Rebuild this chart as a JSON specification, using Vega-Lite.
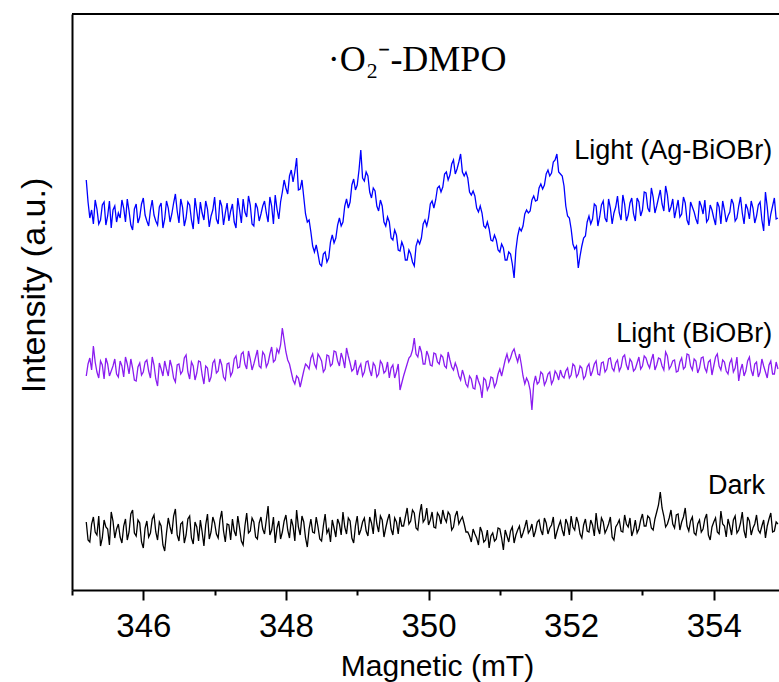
{
"$schema": "https://vega.github.io/schema/vega-lite/v6.json",
"width": 707,
"height": 576,
"autosize": {"type": "none"},
"padding": {"left": 72, "top": 14, "right": 0, "bottom": 92},
"background": "white",
"config": {"view": {"stroke": null}, "font": "Liberation Sans"},
"datasets": {"epr": [
{"x":345.20,"A":410,"B":214,"C":68},{"x":345.25,"A":372,"B":232,"C":48},{"x":345.30,"A":366,"B":244,"C":73},{"x":345.35,"A":381,"B":218,"C":55},{"x":345.40,"A":370,"B":229,"C":44},
{"x":345.45,"A":388,"B":211,"C":70},{"x":345.50,"A":374,"B":226,"C":61},{"x":345.55,"A":362,"B":219,"C":78},{"x":345.60,"A":384,"B":231,"C":52},{"x":345.65,"A":377,"B":213,"C":66},
{"x":345.70,"A":390,"B":224,"C":47},{"x":345.75,"A":368,"B":233,"C":71},{"x":345.80,"A":379,"B":216,"C":58},{"x":345.85,"A":360,"B":222,"C":80},{"x":345.90,"A":386,"B":209,"C":54},
{"x":345.95,"A":373,"B":227,"C":67},{"x":346.00,"A":392,"B":218,"C":42},{"x":346.05,"A":369,"B":230,"C":69},{"x":346.10,"A":380,"B":212,"C":57},{"x":346.15,"A":375,"B":225,"C":75},
{"x":346.20,"A":365,"B":204,"C":50},{"x":346.25,"A":387,"B":221,"C":64},{"x":346.30,"A":371,"B":229,"C":39},{"x":346.35,"A":382,"B":214,"C":72},{"x":346.40,"A":376,"B":223,"C":56},
{"x":346.45,"A":396,"B":208,"C":81},{"x":346.50,"A":367,"B":226,"C":49},{"x":346.55,"A":383,"B":219,"C":68},{"x":346.60,"A":372,"B":235,"C":55},{"x":346.65,"A":385,"B":211,"C":74},
{"x":346.70,"A":361,"B":224,"C":46},{"x":346.75,"A":379,"B":217,"C":63},{"x":346.80,"A":388,"B":228,"C":70},{"x":346.85,"A":370,"B":206,"C":44},{"x":346.90,"A":381,"B":222,"C":76},
{"x":346.95,"A":374,"B":213,"C":58},{"x":347.00,"A":393,"B":230,"C":67},{"x":347.05,"A":366,"B":219,"C":52},{"x":347.10,"A":384,"B":225,"C":79},{"x":347.15,"A":377,"B":210,"C":48},
{"x":347.20,"A":369,"B":227,"C":65},{"x":347.25,"A":386,"B":218,"C":71},{"x":347.30,"A":362,"B":234,"C":54},{"x":347.35,"A":380,"B":223,"C":62},{"x":347.40,"A":391,"B":238,"C":45},
{"x":347.45,"A":373,"B":221,"C":77},{"x":347.50,"A":385,"B":231,"C":59},{"x":347.55,"A":364,"B":226,"C":68},{"x":347.60,"A":382,"B":240,"C":51},{"x":347.65,"A":376,"B":222,"C":73},
{"x":347.70,"A":389,"B":235,"C":56},{"x":347.75,"A":368,"B":227,"C":84},{"x":347.80,"A":384,"B":243,"C":60},{"x":347.85,"A":395,"B":230,"C":47},{"x":347.90,"A":371,"B":237,"C":69},
{"x":347.95,"A":398,"B":262,"C":58},{"x":348.00,"A":402,"B":238,"C":75},{"x":348.05,"A":414,"B":226,"C":52},{"x":348.10,"A":408,"B":210,"C":64},{"x":348.15,"A":432,"B":214,"C":80},
{"x":348.20,"A":401,"B":203,"C":55},{"x":348.25,"A":393,"B":219,"C":68},{"x":348.30,"A":368,"B":224,"C":43},{"x":348.35,"A":358,"B":232,"C":71},{"x":348.40,"A":338,"B":226,"C":57},
{"x":348.45,"A":336,"B":236,"C":63},{"x":348.50,"A":324,"B":229,"C":49},{"x":348.55,"A":338,"B":221,"C":76},{"x":348.60,"A":332,"B":234,"C":61},{"x":348.65,"A":355,"B":226,"C":70},
{"x":348.70,"A":352,"B":238,"C":53},{"x":348.75,"A":372,"B":224,"C":66},{"x":348.80,"A":368,"B":231,"C":78},{"x":348.85,"A":391,"B":242,"C":56},{"x":348.90,"A":388,"B":227,"C":69},
{"x":348.95,"A":411,"B":221,"C":47},{"x":349.00,"A":405,"B":215,"C":74},{"x":349.05,"A":440,"B":226,"C":60},{"x":349.10,"A":409,"B":218,"C":72},{"x":349.15,"A":414,"B":229,"C":54},
{"x":349.20,"A":392,"B":214,"C":67},{"x":349.25,"A":399,"B":224,"C":81},{"x":349.30,"A":379,"B":216,"C":58},{"x":349.35,"A":384,"B":226,"C":70},{"x":349.40,"A":364,"B":219,"C":62},
{"x":349.45,"A":368,"B":212,"C":76},{"x":349.50,"A":350,"B":225,"C":55},{"x":349.55,"A":355,"B":218,"C":68},{"x":349.60,"A":339,"B":200,"C":73},{"x":349.65,"A":343,"B":214,"C":64},
{"x":349.70,"A":330,"B":226,"C":82},{"x":349.75,"A":336,"B":234,"C":69},{"x":349.80,"A":324,"B":252,"C":77},{"x":349.85,"A":350,"B":233,"C":60},{"x":349.90,"A":352,"B":238,"C":86},
{"x":349.95,"A":370,"B":226,"C":71},{"x":350.00,"A":372,"B":234,"C":65},{"x":350.05,"A":389,"B":224,"C":78},{"x":350.10,"A":390,"B":236,"C":62},{"x":350.15,"A":404,"B":226,"C":74},
{"x":350.20,"A":403,"B":233,"C":80},{"x":350.25,"A":418,"B":222,"C":68},{"x":350.30,"A":415,"B":230,"C":75},{"x":350.35,"A":430,"B":220,"C":63},{"x":350.40,"A":421,"B":222,"C":79},
{"x":350.45,"A":436,"B":210,"C":70},{"x":350.50,"A":414,"B":214,"C":66},{"x":350.55,"A":412,"B":203,"C":58},{"x":350.60,"A":395,"B":211,"C":48},{"x":350.65,"A":394,"B":201,"C":56},
{"x":350.70,"A":378,"B":209,"C":45},{"x":350.75,"A":377,"B":192,"C":58},{"x":350.80,"A":362,"B":210,"C":50},{"x":350.85,"A":361,"B":204,"C":42},{"x":350.90,"A":349,"B":212,"C":57},
{"x":350.95,"A":350,"B":207,"C":51},{"x":351.00,"A":338,"B":221,"C":61},{"x":351.05,"A":342,"B":222,"C":40},{"x":351.10,"A":330,"B":236,"C":54},{"x":351.15,"A":336,"B":232,"C":59},
{"x":351.20,"A":312,"B":241,"C":47},{"x":351.25,"A":354,"B":228,"C":60},{"x":351.30,"A":359,"B":226,"C":52},{"x":351.35,"A":376,"B":206,"C":63},{"x":351.40,"A":377,"B":208,"C":57},
{"x":351.45,"A":390,"B":180,"C":66},{"x":351.50,"A":389,"B":214,"C":59},{"x":351.55,"A":402,"B":208,"C":70},{"x":351.60,"A":401,"B":216,"C":55},{"x":351.65,"A":416,"B":209,"C":67},
{"x":351.70,"A":414,"B":218,"C":62},{"x":351.75,"A":428,"B":210,"C":73},{"x":351.80,"A":436,"B":216,"C":58},{"x":351.85,"A":416,"B":220,"C":69},{"x":351.90,"A":404,"B":212,"C":54},
{"x":351.95,"A":374,"B":222,"C":66},{"x":352.00,"A":361,"B":215,"C":74},{"x":352.05,"A":341,"B":224,"C":60},{"x":352.10,"A":322,"B":216,"C":67},{"x":352.15,"A":344,"B":222,"C":52},
{"x":352.20,"A":354,"B":214,"C":71},{"x":352.25,"A":374,"B":226,"C":58},{"x":352.30,"A":371,"B":219,"C":65},{"x":352.35,"A":384,"B":229,"C":77},{"x":352.40,"A":373,"B":215,"C":56},
{"x":352.45,"A":389,"B":228,"C":68},{"x":352.50,"A":368,"B":221,"C":61},{"x":352.55,"A":382,"B":232,"C":73},{"x":352.60,"A":377,"B":219,"C":50},{"x":352.65,"A":394,"B":230,"C":66},
{"x":352.70,"A":370,"B":223,"C":59},{"x":352.75,"A":386,"B":235,"C":75},{"x":352.80,"A":375,"B":220,"C":63},{"x":352.85,"A":392,"B":228,"C":54},{"x":352.90,"A":369,"B":221,"C":70},
{"x":352.95,"A":388,"B":233,"C":61},{"x":353.00,"A":380,"B":224,"C":76},{"x":353.05,"A":397,"B":232,"C":64},{"x":353.10,"A":378,"B":222,"C":72},{"x":353.15,"A":393,"B":236,"C":60},
{"x":353.20,"A":384,"B":225,"C":78},{"x":353.25,"A":400,"B":231,"C":98},{"x":353.30,"A":379,"B":220,"C":74},{"x":353.35,"A":395,"B":234,"C":66},{"x":353.40,"A":383,"B":224,"C":80},
{"x":353.45,"A":372,"B":230,"C":62},{"x":353.50,"A":390,"B":219,"C":76},{"x":353.55,"A":376,"B":232,"C":68},{"x":353.60,"A":387,"B":223,"C":82},{"x":353.65,"A":365,"B":235,"C":59},
{"x":353.70,"A":383,"B":220,"C":73},{"x":353.75,"A":371,"B":229,"C":55},{"x":353.80,"A":389,"B":222,"C":70},{"x":353.85,"A":376,"B":233,"C":61},{"x":353.90,"A":368,"B":218,"C":76},
{"x":353.95,"A":385,"B":230,"C":50},{"x":354.00,"A":372,"B":224,"C":68},{"x":354.05,"A":388,"B":236,"C":58},{"x":354.10,"A":366,"B":220,"C":79},{"x":354.15,"A":380,"B":228,"C":64},
{"x":354.20,"A":374,"B":216,"C":71},{"x":354.25,"A":391,"B":231,"C":55},{"x":354.30,"A":369,"B":222,"C":74},{"x":354.35,"A":384,"B":209,"C":60},{"x":354.40,"A":377,"B":226,"C":78},
{"x":354.45,"A":386,"B":219,"C":52},{"x":354.50,"A":371,"B":233,"C":69},{"x":354.55,"A":382,"B":214,"C":62},{"x":354.60,"A":374,"B":228,"C":75},{"x":354.65,"A":388,"B":218,"C":57},
{"x":354.70,"A":359,"B":224,"C":70},{"x":354.75,"A":383,"B":212,"C":64},{"x":354.80,"A":376,"B":229,"C":77},{"x":354.85,"A":392,"B":216,"C":59},{"x":354.90,"A":372,"B":221,"C":66},
{"x":345.225,"A":388,"B":226,"C":50},{"x":345.275,"A":380,"B":220,"C":66},{"x":345.325,"A":390,"B":228,"C":58},{"x":345.375,"A":366,"B":212,"C":74},{"x":345.425,"A":385,"B":225,"C":52},
{"x":345.475,"A":365,"B":232,"C":63},{"x":345.525,"A":389,"B":214,"C":45},{"x":345.575,"A":380,"B":224,"C":69},{"x":345.625,"A":368,"B":216,"C":61},{"x":345.675,"A":372,"B":229,"C":53},
{"x":345.725,"A":382,"B":213,"C":64},{"x":345.775,"A":391,"B":226,"C":50},{"x":345.825,"A":365,"B":231,"C":76},{"x":345.875,"A":381,"B":210,"C":57},{"x":345.925,"A":367,"B":223,"C":70},
{"x":345.975,"A":386,"B":215,"C":48},{"x":346.025,"A":375,"B":228,"C":62},{"x":346.075,"A":364,"B":219,"C":53},{"x":346.125,"A":390,"B":233,"C":71},{"x":346.175,"A":369,"B":211,"C":58},
{"x":346.225,"A":383,"B":227,"C":68},{"x":346.275,"A":362,"B":214,"C":45},{"x":346.325,"A":389,"B":221,"C":57},{"x":346.375,"A":368,"B":230,"C":63},{"x":346.425,"A":387,"B":212,"C":74},
{"x":346.475,"A":379,"B":225,"C":55},{"x":346.525,"A":391,"B":216,"C":66},{"x":346.575,"A":364,"B":232,"C":47},{"x":346.625,"A":388,"B":218,"C":71},{"x":346.675,"A":370,"B":228,"C":52},
{"x":346.725,"A":392,"B":210,"C":68},{"x":346.775,"A":366,"B":229,"C":49},{"x":346.825,"A":377,"B":215,"C":58},{"x":346.875,"A":389,"B":224,"C":65},{"x":346.925,"A":363,"B":208,"C":51},
{"x":346.975,"A":380,"B":227,"C":73},{"x":347.025,"A":371,"B":217,"C":56},{"x":347.075,"A":390,"B":231,"C":70},{"x":347.125,"A":365,"B":213,"C":59},{"x":347.175,"A":387,"B":226,"C":66},
{"x":347.225,"A":379,"B":214,"C":50},{"x":347.275,"A":368,"B":231,"C":59},{"x":347.325,"A":392,"B":222,"C":74},{"x":347.375,"A":367,"B":236,"C":49},{"x":347.425,"A":378,"B":226,"C":64},
{"x":347.475,"A":394,"B":239,"C":57},{"x":347.525,"A":366,"B":220,"C":72},{"x":347.575,"A":387,"B":233,"C":53},{"x":347.625,"A":369,"B":224,"C":67},{"x":347.675,"A":384,"B":238,"C":61},
{"x":347.725,"A":377,"B":223,"C":70},{"x":347.775,"A":393,"B":236,"C":55},{"x":347.825,"A":366,"B":228,"C":73},{"x":347.875,"A":381,"B":241,"C":62},{"x":347.925,"A":388,"B":245,"C":51},
{"x":347.975,"A":410,"B":250,"C":69},{"x":348.025,"A":396,"B":230,"C":60},{"x":348.075,"A":420,"B":218,"C":71},{"x":348.125,"A":418,"B":206,"C":49},{"x":348.175,"A":400,"B":212,"C":63},
{"x":348.225,"A":410,"B":211,"C":74},{"x":348.275,"A":376,"B":226,"C":52},{"x":348.325,"A":370,"B":221,"C":61},{"x":348.375,"A":344,"B":236,"C":58},{"x":348.425,"A":345,"B":222,"C":73},
{"x":348.475,"A":326,"B":233,"C":51},{"x":348.525,"A":336,"B":218,"C":64},{"x":348.575,"A":328,"B":235,"C":57},{"x":348.625,"A":348,"B":224,"C":48},{"x":348.675,"A":347,"B":239,"C":62},
{"x":348.725,"A":365,"B":229,"C":71},{"x":348.775,"A":364,"B":237,"C":55},{"x":348.825,"A":384,"B":222,"C":63},{"x":348.875,"A":382,"B":234,"C":72},{"x":348.925,"A":405,"B":219,"C":52},
{"x":348.975,"A":400,"B":230,"C":64},{"x":349.025,"A":420,"B":222,"C":55},{"x":349.075,"A":412,"B":214,"C":68},{"x":349.125,"A":418,"B":228,"C":59},{"x":349.175,"A":398,"B":220,"C":73},
{"x":349.225,"A":402,"B":227,"C":56},{"x":349.275,"A":384,"B":213,"C":66},{"x":349.325,"A":390,"B":229,"C":74},{"x":349.375,"A":368,"B":217,"C":53},{"x":349.425,"A":373,"B":228,"C":70},
{"x":349.475,"A":352,"B":222,"C":61},{"x":349.525,"A":360,"B":212,"C":72},{"x":349.575,"A":340,"B":226,"C":56},{"x":349.625,"A":348,"B":207,"C":64},{"x":349.675,"A":330,"B":220,"C":73},
{"x":349.725,"A":340,"B":232,"C":66},{"x":349.775,"A":328,"B":240,"C":80},{"x":349.825,"A":344,"B":236,"C":62},{"x":349.875,"A":346,"B":244,"C":76},{"x":349.925,"A":366,"B":226,"C":68},
{"x":349.975,"A":364,"B":239,"C":82},{"x":350.025,"A":386,"B":225,"C":70},{"x":350.075,"A":382,"B":237,"C":63},{"x":350.125,"A":402,"B":228,"C":77},{"x":350.175,"A":398,"B":235,"C":66},
{"x":350.225,"A":416,"B":224,"C":72},{"x":350.275,"A":410,"B":238,"C":78},{"x":350.325,"A":426,"B":223,"C":60},{"x":350.375,"A":416,"B":227,"C":74},{"x":350.425,"A":428,"B":214,"C":66},
{"x":350.475,"A":418,"B":220,"C":73},{"x":350.525,"A":418,"B":206,"C":58},{"x":350.575,"A":398,"B":214,"C":54},{"x":350.625,"A":399,"B":202,"C":61},{"x":350.675,"A":382,"B":215,"C":52},
{"x":350.725,"A":384,"B":204,"C":63},{"x":350.775,"A":364,"B":212,"C":48},{"x":350.825,"A":368,"B":200,"C":60},{"x":350.875,"A":350,"B":213,"C":54},{"x":350.925,"A":355,"B":203,"C":49},
{"x":350.975,"A":340,"B":216,"C":62},{"x":351.025,"A":346,"B":214,"C":52},{"x":351.075,"A":330,"B":230,"C":60},{"x":351.125,"A":338,"B":228,"C":48},{"x":351.175,"A":326,"B":238,"C":63},
{"x":351.225,"A":340,"B":234,"C":55},{"x":351.275,"A":362,"B":236,"C":64},{"x":351.325,"A":364,"B":214,"C":57},{"x":351.375,"A":380,"B":212,"C":70},{"x":351.425,"A":379,"B":200,"C":60},
{"x":351.475,"A":394,"B":206,"C":53},{"x":351.525,"A":390,"B":206,"C":68},{"x":351.575,"A":406,"B":218,"C":60},{"x":351.625,"A":405,"B":205,"C":72},{"x":351.675,"A":420,"B":216,"C":56},
{"x":351.725,"A":417,"B":206,"C":65},{"x":351.775,"A":430,"B":219,"C":51},{"x":351.825,"A":418,"B":210,"C":64},{"x":351.875,"A":414,"B":214,"C":60},{"x":351.925,"A":384,"B":219,"C":71},
{"x":351.975,"A":372,"B":212,"C":55},{"x":352.025,"A":346,"B":226,"C":63},{"x":352.075,"A":344,"B":213,"C":73},{"x":352.125,"A":334,"B":224,"C":56},{"x":352.175,"A":352,"B":211,"C":65},
{"x":352.225,"A":368,"B":223,"C":59},{"x":352.275,"A":366,"B":214,"C":70},{"x":352.325,"A":386,"B":226,"C":54},{"x":352.375,"A":364,"B":216,"C":62},{"x":352.425,"A":385,"B":227,"C":72},
{"x":352.475,"A":372,"B":218,"C":57},{"x":352.525,"A":391,"B":231,"C":66},{"x":352.575,"A":366,"B":222,"C":53},{"x":352.625,"A":383,"B":227,"C":63},{"x":352.675,"A":377,"B":219,"C":70},
{"x":352.725,"A":395,"B":233,"C":58},{"x":352.775,"A":369,"B":225,"C":66},{"x":352.825,"A":387,"B":231,"C":72},{"x":352.875,"A":376,"B":219,"C":60},{"x":352.925,"A":392,"B":227,"C":57},
{"x":352.975,"A":374,"B":221,"C":70},{"x":353.025,"A":398,"B":234,"C":64},{"x":353.075,"A":382,"B":226,"C":74},{"x":353.125,"A":402,"B":230,"C":62},{"x":353.175,"A":377,"B":220,"C":71},
{"x":353.225,"A":392,"B":232,"C":85},{"x":353.275,"A":386,"B":224,"C":82},{"x":353.325,"A":404,"B":238,"C":63},{"x":353.375,"A":378,"B":221,"C":72},{"x":353.425,"A":391,"B":229,"C":66},
{"x":353.475,"A":381,"B":218,"C":75},{"x":353.525,"A":373,"B":228,"C":60},{"x":353.575,"A":393,"B":221,"C":73},{"x":353.625,"A":370,"B":236,"C":64},{"x":353.675,"A":388,"B":224,"C":69},
{"x":353.725,"A":378,"B":231,"C":57},{"x":353.775,"A":366,"B":217,"C":66},{"x":353.825,"A":384,"B":232,"C":58},{"x":353.875,"A":390,"B":222,"C":71},{"x":353.925,"A":371,"B":228,"C":55},
{"x":353.975,"A":380,"B":215,"C":63},{"x":354.025,"A":365,"B":233,"C":72},{"x":354.075,"A":383,"B":224,"C":56},{"x":354.125,"A":389,"B":230,"C":66},{"x":354.175,"A":368,"B":219,"C":53},
{"x":354.225,"A":378,"B":227,"C":64},{"x":354.275,"A":386,"B":218,"C":70},{"x":354.325,"A":372,"B":233,"C":57},{"x":354.375,"A":393,"B":220,"C":67},{"x":354.425,"A":366,"B":214,"C":59},
{"x":354.475,"A":381,"B":229,"C":73},{"x":354.525,"A":389,"B":220,"C":55},{"x":354.575,"A":367,"B":226,"C":66},{"x":354.625,"A":385,"B":213,"C":60},{"x":354.675,"A":370,"B":231,"C":64},
{"x":354.725,"A":398,"B":218,"C":52},{"x":354.775,"A":364,"B":225,"C":71},{"x":354.825,"A":384,"B":216,"C":58},{"x":354.875,"A":371,"B":228,"C":68}
]},
"layer": [
{
"data": {"name": "epr"},
"transform": [{"fold": ["A", "B", "C"], "as": ["series", "v"]}],
"mark": {"type": "line", "strokeWidth": 1.3, "clip": true},
"encoding": {
"x": {"field": "x", "type": "quantitative",
"scale": {"domain": [345, 354.915], "nice": false, "zero": false},
"axis": {"title": "Magnetic (mT)", "values": [345,346,347,348,349,350,351,352,353,354],
"format": "d",
"labelExpr": "datum.value % 2 === 0 ? datum.label : ''",
"tickSize": {"condition": {"test": "datum.value % 2 === 0", "value": 10}, "value": 5},
"tickWidth": 2, "tickColor": "black", "domainColor": "black", "domainWidth": 2,
"grid": false, "labelFlush": false, "labelOverlap": false,
"labelFont": "Liberation Sans", "labelFontSize": 33, "labelColor": "black", "labelPadding": 10,
"titleFont": "Liberation Sans", "titleFontSize": 30, "titleFontWeight": "normal", "titleColor": "black", "titlePadding": 8, "titleX": 365}},
"y": {"field": "v", "type": "quantitative",
"scale": {"domain": [0, 576], "nice": false, "zero": false},
"axis": {"title": "Intensity (a.u.)", "ticks": false, "labels": false, "grid": false,
"domainColor": "black", "domainWidth": 2,
"titleFont": "Liberation Sans", "titleFontSize": 34, "titleFontWeight": "normal", "titleColor": "black",
"titlePadding": 21, "titleY": 271}},
"color": {"field": "series", "type": "nominal",
"scale": {"domain": ["A", "B", "C"], "range": ["#0000ff", "#8a1cf0", "#000000"]}, "legend": null}
}
},
{
"data": {"values": [{}]},
"mark": {"type": "rule", "color": "black", "strokeWidth": 2},
"encoding": {"y": {"datum": 576}}
},
{
"data": {"values": [{}]},
"mark": {"type": "text", "font": "Liberation Serif", "fontSize": 36, "align": "center", "baseline": "alphabetic", "color": "black"},
"encoding": {"x": {"datum": 349.84}, "y": {"datum": 519}, "text": {"value": "·O₂⁻-DMPO"}}
},
{
"data": {"values": [{}]},
"mark": {"type": "text", "font": "Liberation Sans", "fontSize": 27, "align": "right", "baseline": "alphabetic", "color": "black"},
"encoding": {"x": {"datum": 354.82}, "y": {"datum": 431}, "text": {"value": "Light (Ag-BiOBr)"}}
},
{
"data": {"values": [{}]},
"mark": {"type": "text", "font": "Liberation Sans", "fontSize": 27, "align": "right", "baseline": "alphabetic", "color": "black"},
"encoding": {"x": {"datum": 354.82}, "y": {"datum": 248}, "text": {"value": "Light (BiOBr)"}}
},
{
"data": {"values": [{}]},
"mark": {"type": "text", "font": "Liberation Sans", "fontSize": 27, "align": "right", "baseline": "alphabetic", "color": "black"},
"encoding": {"x": {"datum": 354.72}, "y": {"datum": 96}, "text": {"value": "Dark"}}
}
]
}
